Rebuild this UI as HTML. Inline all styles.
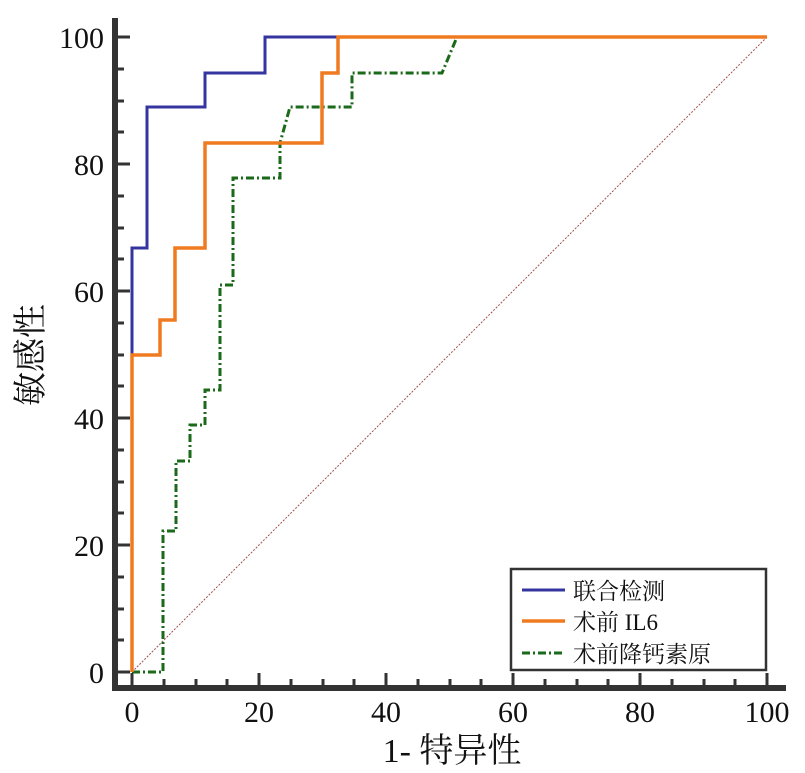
<!DOCTYPE html>
<html><head><meta charset="utf-8"><style>html,body{margin:0;padding:0;background:#fff}svg{display:block}</style></head>
<body>
<svg width="805" height="773" xmlns="http://www.w3.org/2000/svg" font-family="Liberation Serif, Noto Serif CJK SC, serif">
<rect width="805" height="773" fill="#fff"/>
<line x1="132" y1="672" x2="767" y2="37" stroke="#a05050" stroke-width="1" stroke-dasharray="2,1.5"/>
<polyline fill="none" stroke="#3535a0" stroke-width="3" points="132,672 132,248 147,248 147,107 205,107 205,73 265,73 265,37 767,37"/>
<polyline fill="none" stroke="#1a6a1a" stroke-width="3" stroke-dasharray="8,3,2,3" points="132,672 163,672 163,531 176,531 176,461 190,461 190,425 205,425 205,390 220,390 220,285 233,285 233,178 280,178 280,143 290,107 352,107 352,73 442,73 457,37 767,37"/>
<polyline fill="none" stroke="#f07a20" stroke-width="3.5" points="132,672 132,355 160,355 160,320 175,320 175,248 205,248 205,143 322,143 322,73 338,73 338,37 767,37"/>
<line x1="115" y1="18" x2="115" y2="691" stroke="#333" stroke-width="6"/>
<line x1="112" y1="688" x2="786" y2="688" stroke="#333" stroke-width="6"/>
<g stroke="#333" stroke-width="3">
<line x1="115" y1="37" x2="130" y2="37"/><line x1="115" y1="164" x2="130" y2="164"/><line x1="115" y1="291" x2="130" y2="291"/><line x1="115" y1="418" x2="130" y2="418"/><line x1="115" y1="545" x2="130" y2="545"/><line x1="115" y1="672" x2="130" y2="672"/>
<line x1="115" y1="69" x2="124" y2="69"/><line x1="115" y1="101" x2="124" y2="101"/><line x1="115" y1="132" x2="124" y2="132"/><line x1="115" y1="196" x2="124" y2="196"/><line x1="115" y1="228" x2="124" y2="228"/><line x1="115" y1="259" x2="124" y2="259"/><line x1="115" y1="323" x2="124" y2="323"/><line x1="115" y1="355" x2="124" y2="355"/><line x1="115" y1="386" x2="124" y2="386"/><line x1="115" y1="450" x2="124" y2="450"/><line x1="115" y1="482" x2="124" y2="482"/><line x1="115" y1="513" x2="124" y2="513"/><line x1="115" y1="577" x2="124" y2="577"/><line x1="115" y1="609" x2="124" y2="609"/><line x1="115" y1="640" x2="124" y2="640"/>
<line x1="132" y1="688" x2="132" y2="673"/><line x1="259" y1="688" x2="259" y2="673"/><line x1="386" y1="688" x2="386" y2="673"/><line x1="513" y1="688" x2="513" y2="673"/><line x1="640" y1="688" x2="640" y2="673"/><line x1="767" y1="688" x2="767" y2="673"/>
<line x1="164" y1="688" x2="164" y2="679"/><line x1="196" y1="688" x2="196" y2="679"/><line x1="227" y1="688" x2="227" y2="679"/><line x1="291" y1="688" x2="291" y2="679"/><line x1="323" y1="688" x2="323" y2="679"/><line x1="354" y1="688" x2="354" y2="679"/><line x1="418" y1="688" x2="418" y2="679"/><line x1="450" y1="688" x2="450" y2="679"/><line x1="481" y1="688" x2="481" y2="679"/><line x1="545" y1="688" x2="545" y2="679"/><line x1="577" y1="688" x2="577" y2="679"/><line x1="608" y1="688" x2="608" y2="679"/><line x1="672" y1="688" x2="672" y2="679"/><line x1="704" y1="688" x2="704" y2="679"/><line x1="735" y1="688" x2="735" y2="679"/>
</g>
<g font-size="30" fill="#111" text-anchor="end">
<text x="104" y="48">100</text><text x="104" y="175">80</text><text x="104" y="302">60</text><text x="104" y="429">40</text><text x="104" y="556">20</text><text x="104" y="683">0</text>
</g>
<g font-size="30" fill="#111" text-anchor="middle">
<text x="132" y="722">0</text><text x="259" y="722">20</text><text x="386" y="722">40</text><text x="513" y="722">60</text><text x="640" y="722">80</text><text x="767" y="722">100</text>
</g>
<text x="452" y="762" font-size="34" text-anchor="middle" fill="#111">1- 特异性</text>
<text transform="translate(42,355) rotate(-90)" font-size="34" text-anchor="middle" fill="#111">敏感性</text>
<rect x="511" y="569" width="255" height="101" fill="#fff" stroke="#333" stroke-width="2.5"/>
<line x1="522" y1="590" x2="565" y2="590" stroke="#3535a0" stroke-width="3"/>
<line x1="522" y1="621" x2="565" y2="621" stroke="#f07a20" stroke-width="3.5"/>
<line x1="522" y1="653" x2="565" y2="653" stroke="#1a6a1a" stroke-width="3" stroke-dasharray="8,3,2,3"/>
<g font-size="23" fill="#111">
<text x="573" y="599">联合检测</text><text x="573" y="630">术前 IL6</text><text x="573" y="662">术前降钙素原</text>
</g>
</svg>
</body></html>
